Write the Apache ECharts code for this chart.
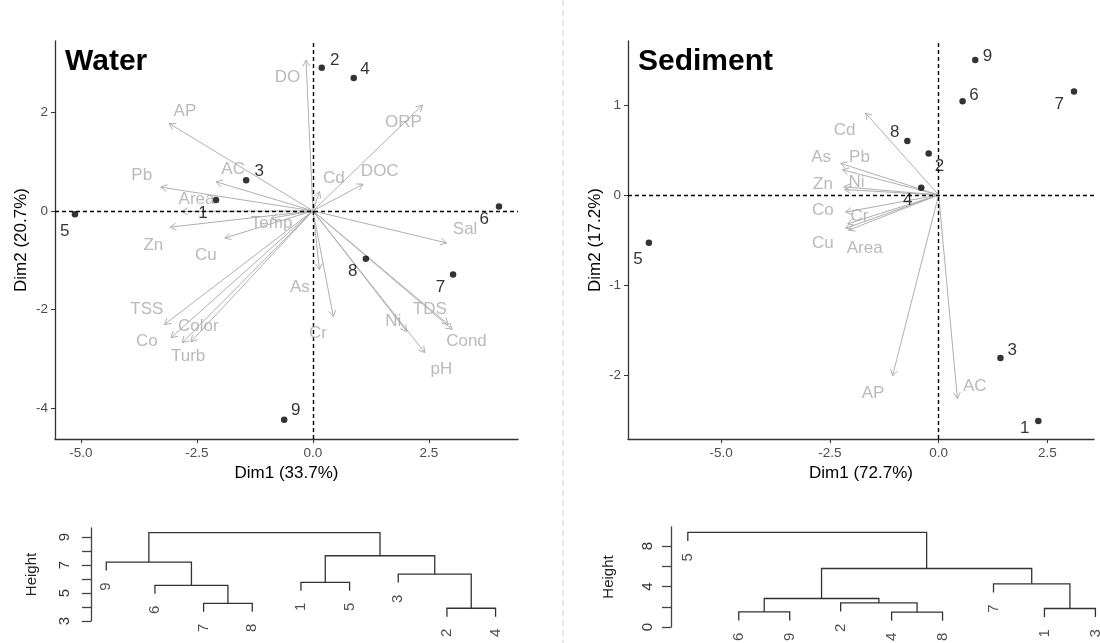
<!DOCTYPE html>
<html>
<head>
<meta charset="utf-8">
<script src="https://cdn.jsdelivr.net/npm/echarts@6/dist/echarts.min.js"></script>
<style>
  html, body { margin: 0; padding: 0; background: #fff; }
  #chart { width: 1100px; height: 643px; }
</style>
</head>
<body>
<div id="chart"></div>
<script>
// ---------- Water PCA (sites) ----------
const waterSites = ['1', '2', '3', '4', '5', '6', '7', '8', '9'];
const waterSiteX = [-2.09, 0.19, -1.44, 0.88, -5.13, 4.01, 3.02, 1.14, -0.62];
const waterSiteY = [0.22, 2.90, 0.62, 2.69, -0.07, 0.09, -1.29, -0.97, -4.23];
const waterSiteLabelX = [-2.37, 0.47, -1.16, 1.12, -5.35, 3.69, 2.75, 0.86, -0.37];
const waterSiteLabelY = [-0.04, 3.05, 0.81, 2.87, -0.42, -0.17, -1.54, -1.23, -4.03];

// ---------- Water PCA (variables) ----------
const waterVars = ['DO', 'AP', 'ORP', 'AC', 'Pb', 'Area', 'Zn', 'Cu', 'Temp', 'DOC', 'Cd',
  'Sal', 'As', 'Cr', 'Ni', 'TDS', 'Cond', 'pH', 'TSS', 'Co', 'Turb', 'Color'];
const waterVarX = [-0.15, -3.10, 2.36, -2.09, -3.28, -2.83, -3.08, -1.90, -0.90, 1.08, 0.14,
  2.88, 0.14, 0.44, 2.02, 2.92, 3.00, 2.41, -3.20, -3.06, -2.82, -2.63];
const waterVarY = [3.05, 1.77, 2.14, 0.59, 0.48, -0.01, -0.33, -0.55, -0.15, 0.54, 0.39,
  -0.65, -1.19, -2.14, -2.44, -2.30, -2.40, -2.87, -2.30, -2.57, -2.67, -2.65];
const waterVarLabelX = [-0.55, -2.76, 1.95, -1.72, -3.69, -2.51, -3.44, -2.31, -0.89, 1.44, 0.45,
  3.28, -0.28, 0.11, 1.73, 2.52, 3.31, 2.77, -3.58, -3.58, -2.69, -2.47];
const waterVarLabelY = [2.71, 2.01, 1.80, 0.84, 0.73, 0.24, -0.69, -0.91, -0.26, 0.81, 0.66,
  -0.38, -1.54, -2.47, -2.24, -2.00, -2.64, -3.21, -2.00, -2.64, -2.94, -2.34];

// ---------- Sediment PCA ----------
const sedSites = ['1', '2', '3', '4', '5', '6', '7', '8', '9'];
const sedSiteX = [2.29, -0.23, 1.42, -0.40, -6.66, 0.55, 3.11, -0.72, 0.84];
const sedSiteY = [-2.51, 0.46, -1.81, 0.08, -0.53, 1.04, 1.15, 0.60, 1.50];
const sedSiteLabelX = [1.98, 0.02, 1.69, -0.71, -6.91, 0.81, 2.77, -1.01, 1.12];
const sedSiteLabelY = [-2.59, 0.32, -1.72, -0.06, -0.72, 1.11, 1.01, 0.70, 1.54];

const sedVars = ['Cd', 'As', 'Pb', 'Zn', 'Ni', 'Co', 'Cr', 'Cu', 'Area', 'AP', 'AC'];
const sedVarX = [-1.68, -2.25, -2.21, -2.18, -2.16, -2.14, -2.09, -2.14, -2.07, -1.06, 0.43];
const sedVarY = [0.91, 0.35, 0.28, 0.09, 0.06, -0.19, -0.32, -0.37, -0.39, -2.01, -2.26];
const sedVarLabelX = [-2.16, -2.70, -1.82, -2.66, -1.89, -2.66, -1.82, -2.66, -1.70, -1.51, 0.83];
const sedVarLabelY = [0.72, 0.42, 0.42, 0.12, 0.14, -0.17, -0.24, -0.54, -0.59, -2.20, -2.13];

// ---------- dendrograms (R-style merge: negative = site, positive = earlier step) ----------
const waterMerge = [[-2, -4], [-7, -8], [-6, 2], [-1, -5], [-3, 1], [-9, 3], [4, 5], [6, 7]];
const waterHeight = [3.91, 4.26, 5.55, 5.76, 6.34, 7.21, 7.66, 9.31];
const waterOrder = [9, 6, 7, 8, 1, 5, 3, 2, 4];

const sedMerge = [[-6, -9], [-4, -8], [-1, -3], [-2, 2], [1, 4], [-7, 3], [5, 6], [-5, 7]];
const sedHeight = [1.49, 1.47, 1.83, 2.38, 2.82, 4.27, 5.79, 9.36];
const sedOrder = [5, 6, 9, 2, 4, 8, 7, 1, 3];

const FONT = 'Liberation Sans';
const ARROW = '#b0b0b0';
const VARTXT = '#a9a9a9';

function zip(xs, ys, names) {
  return xs.map((x, i) => [x, ys[i], names[i]]);
}

function dendro(merge, height, order, hang) {
  const pos = {};
  order.forEach((leaf, i) => { pos[leaf] = i + 1; });
  const nx = [], nh = [], segs = [], leaves = [];
  merge.forEach((pair, k) => {
    const h = height[k];
    const ends = pair.map(id => {
      if (id < 0) {
        const p = [pos[-id], h - hang];
        leaves.push([p[0], p[1], String(-id)]);
        return p;
      }
      return [nx[id - 1], nh[id - 1]];
    });
    nx[k] = (ends[0][0] + ends[1][0]) / 2;
    nh[k] = h;
    segs.push({ coords: [ends[0], [ends[0][0], h], [ends[1][0], h], ends[1]] });
  });
  return { segs, leaves };
}

const wd = dendro(waterMerge, waterHeight, waterOrder, 0.6);
const sd = dendro(sedMerge, sedHeight, sedOrder, 0.85);

function arrowItem(params, api) {
  const o = api.coord([0, 0]);
  const t = api.coord([api.value(0), api.value(1)]);
  const ang = Math.atan2(t[1] - o[1], t[0] - o[0]);
  const L = 7, a = Math.PI / 6;
  const p1 = [t[0] - L * Math.cos(ang - a), t[1] - L * Math.sin(ang - a)];
  const p2 = [t[0] - L * Math.cos(ang + a), t[1] - L * Math.sin(ang + a)];
  const style = { stroke: ARROW, lineWidth: 1, fill: null };
  return {
    type: 'group',
    children: [
      { type: 'line', shape: { x1: o[0], y1: o[1], x2: t[0], y2: t[1] }, style },
      { type: 'polyline', shape: { points: [p1, t, p2] }, style }
    ]
  };
}

function biplotX(idx, name, min, max) {
  return {
    gridIndex: idx, type: 'value', min, max,
    name, nameLocation: 'middle', nameGap: 24,
    nameTextStyle: { color: '#000', fontSize: 17, fontFamily: FONT },
    axisLine: { show: true, onZero: false, lineStyle: { color: '#333', width: 1.3 } },
    axisTick: { show: true, length: 4, lineStyle: { color: '#333' }, customValues: [-5, -2.5, 0, 2.5] },
    axisLabel: { color: '#4d4d4d', fontSize: 13.5, fontFamily: FONT, margin: 7,
      customValues: [-5, -2.5, 0, 2.5], formatter: v => v.toFixed(1) },
    splitLine: { show: false }
  };
}

function biplotY(idx, name, min, max, ticks, gap) {
  return {
    gridIndex: idx, type: 'value', min, max,
    name, nameLocation: 'middle', nameGap: gap,
    nameTextStyle: { color: '#000', fontSize: 17, fontFamily: FONT },
    axisLine: { show: true, onZero: false, lineStyle: { color: '#333', width: 1.3 } },
    axisTick: { show: true, length: 4, lineStyle: { color: '#333' }, customValues: ticks },
    axisLabel: { color: '#4d4d4d', fontSize: 13.5, fontFamily: FONT, margin: 7, customValues: ticks },
    splitLine: { show: false }
  };
}

function dendroY(idx, min, max, ticks, labels, gap, margin) {
  return {
    gridIndex: idx, type: 'value', min, max,
    name: 'Height', nameLocation: 'middle', nameGap: gap,
    nameTextStyle: { color: '#222', fontSize: 15, fontFamily: FONT },
    axisLine: { show: true, lineStyle: { color: '#444', width: 1.3 } },
    axisTick: { show: true, length: 9, lineStyle: { color: '#444', width: 1.3 }, customValues: ticks },
    axisLabel: { color: '#333', fontSize: 15, fontFamily: FONT, rotate: 90, margin, customValues: labels },
    splitLine: { show: false }
  };
}

const dashed = {
  silent: true, symbol: 'none',
  label: { show: false },
  lineStyle: { color: '#000', type: [4, 3], width: 1.4 },
  data: [{ xAxis: 0 }, { yAxis: 0 }]
};

function textSeries(idx, data, color, size) {
  return {
    type: 'scatter', xAxisIndex: idx, yAxisIndex: idx, symbolSize: 0, silent: true, z: 5,
    data,
    label: { show: true, position: 'inside', formatter: p => p.value[2],
      color, fontSize: size, fontFamily: FONT }
  };
}

function leafSeries(idx, data) {
  return {
    type: 'scatter', xAxisIndex: idx, yAxisIndex: idx, symbolSize: 0, silent: true,
    data,
    label: { show: true, position: 'bottom', distance: 12, rotate: 90, align: 'right',
      verticalAlign: 'middle', formatter: p => p.value[2], color: '#222', fontSize: 15, fontFamily: FONT }
  };
}

const chart = echarts.init(document.getElementById('chart'), null, { renderer: 'canvas' });

chart.setOption({
  animation: false,
  backgroundColor: '#fff',
  title: [
    { text: 'Water', left: 65, top: 47, padding: 0,
      textStyle: { fontFamily: FONT, fontWeight: 'bold', fontSize: 30, color: '#000' } },
    { text: 'Sediment', left: 638, top: 47, padding: 0,
      textStyle: { fontFamily: FONT, fontWeight: 'bold', fontSize: 30, color: '#000' } }
  ],
  graphic: [{
    type: 'line', silent: true,
    shape: { x1: 563, y1: 0, x2: 563, y2: 643 },
    style: { stroke: '#cfcfcf', lineWidth: 1, lineDash: [6, 4] }
  }],
  grid: [
    { left: 55, top: 41, width: 463, height: 398 },
    { left: 628, top: 41, width: 466, height: 398 },
    { left: 91, top: 528, width: 420, height: 93 },
    { left: 671, top: 527, width: 427, height: 100 }
  ],
  xAxis: [
    biplotX(0, 'Dim1 (33.7%)', -5.56, 4.42),
    biplotX(1, 'Dim1 (72.7%)', -7.14, 3.57),
    { gridIndex: 2, type: 'value', min: 0.686, max: 9.317, show: false },
    { gridIndex: 3, type: 'value', min: 0.670, max: 9.051, show: false }
  ],
  yAxis: [
    biplotY(0, 'Dim2 (20.7%)', -4.62, 3.44, [-4, -2, 0, 2], 25),
    biplotY(1, 'Dim2 (17.2%)', -2.71, 1.71, [-2, -1, 0, 1], 24),
    dendroY(2, 3, 9.64, [3, 4, 5, 6, 7, 8, 9], [3, 5, 7, 9], 52, 19),
    dendroY(3, 0, 9.9, [0, 2, 4, 6, 8], [0, 4, 8], 55, 16)
  ],
  series: [
    // Water biplot
    { type: 'custom', xAxisIndex: 0, yAxisIndex: 0, silent: true, z: 2,
      renderItem: arrowItem, data: zip(waterVarX, waterVarY, waterVars) },
    { type: 'scatter', xAxisIndex: 0, yAxisIndex: 0, symbolSize: 6.5, z: 4,
      itemStyle: { color: '#000' }, data: zip(waterSiteX, waterSiteY, waterSites), markLine: dashed },
    textSeries(0, zip(waterVarLabelX, waterVarLabelY, waterVars), VARTXT, 17),
    textSeries(0, zip(waterSiteLabelX, waterSiteLabelY, waterSites), '#000', 17),
    // Sediment biplot
    { type: 'custom', xAxisIndex: 1, yAxisIndex: 1, silent: true, z: 2,
      renderItem: arrowItem, data: zip(sedVarX, sedVarY, sedVars) },
    { type: 'scatter', xAxisIndex: 1, yAxisIndex: 1, symbolSize: 6.5, z: 4,
      itemStyle: { color: '#000' }, data: zip(sedSiteX, sedSiteY, sedSites), markLine: dashed },
    textSeries(1, zip(sedVarLabelX, sedVarLabelY, sedVars), VARTXT, 17),
    textSeries(1, zip(sedSiteLabelX, sedSiteLabelY, sedSites), '#000', 17),
    // dendrograms
    { type: 'lines', coordinateSystem: 'cartesian2d', xAxisIndex: 2, yAxisIndex: 2, polyline: true,
      silent: true, lineStyle: { color: '#333', width: 1.3, opacity: 1 }, data: wd.segs },
    leafSeries(2, wd.leaves),
    { type: 'lines', coordinateSystem: 'cartesian2d', xAxisIndex: 3, yAxisIndex: 3, polyline: true,
      silent: true, lineStyle: { color: '#333', width: 1.3, opacity: 1 }, data: sd.segs },
    leafSeries(3, sd.leaves)
  ]
});
</script>
</body>
</html>
